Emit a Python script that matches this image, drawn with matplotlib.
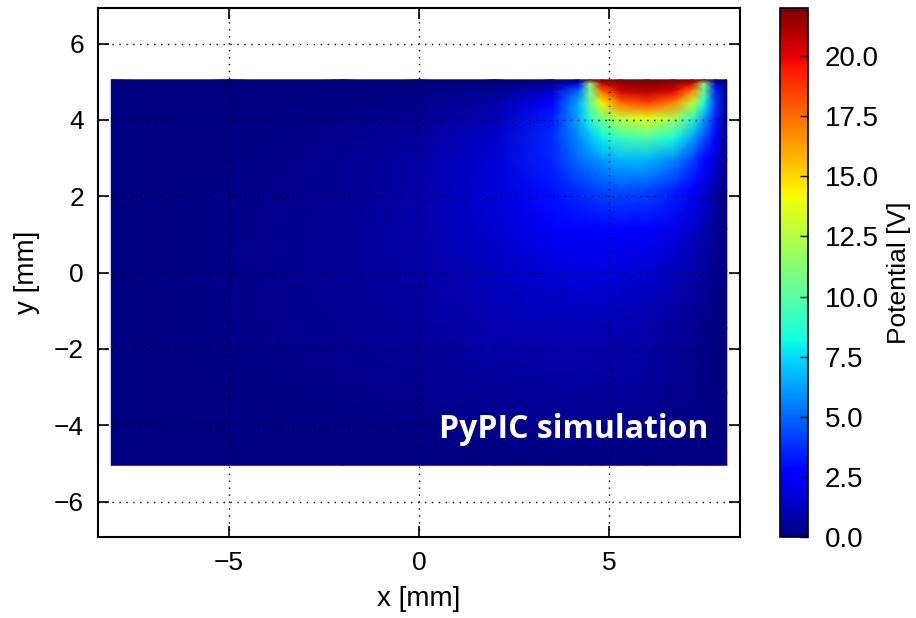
import matplotlib
matplotlib.use("Agg")
import matplotlib.pyplot as plt
import numpy as np

plt.rcParams['font.family'] = ['Liberation Sans', 'DejaVu Sans']

# grid nodes of the simulation box [mm]
x_nodes = [-8.1, -5.0, -2.0, 0.0, 2.0, 3.5, 4.2, 4.5, 4.8, 5.3, 6.0, 6.7, 7.2, 7.5, 7.8, 8.1]
y_nodes = [5.05, 4.95, 4.75, 4.45, 4.05, 3.55, 2.95, 2.15, 1.15, 0.05, -1.45, -3.15, -5.05]

# potential [V], one row per y node (top to bottom)
phi_r0 = [0, 0, 0, 0, 0, 0, 0, 22, 22, 22, 22, 22, 22, 22, 0, 0]
phi_r1 = [0, 0, 0.01, 0.02, 0.1, 0.5, 2.0, 11.2, 20.3, 21.5, 21.7, 21.5, 20.2, 11.0, 1.6, 0]
phi_r2 = [0, 0.04, 0.08, 0.15, 0.35, 1.4, 5.0, 10.8, 17.4, 20.3, 21.0, 20.1, 16.8, 10.2, 3.5, 0]
phi_r3 = [0, 0.05, 0.11, 0.25, 0.7, 2.5, 6.6, 10.2, 14.2, 17.5, 18.6, 17.0, 12.8, 8.4, 3.9, 0]
phi_r4 = [0, 0.09, 0.19, 0.39, 1.08, 3.3, 6.5, 8.6, 10.7, 12.9, 13.7, 12.1, 9.0, 6.3, 3.4, 0]
phi_r5 = [0, 0.1, 0.26, 0.55, 1.42, 3.64, 5.8, 6.9, 8.0, 9.3, 9.8, 8.5, 6.3, 4.5, 2.5, 0]
phi_r6 = [0, 0.15, 0.35, 0.7, 1.67, 3.53, 5.08, 5.5, 6.05, 6.65, 6.7, 5.7, 4.1, 2.9, 1.7, 0]
phi_r7 = [0, 0.18, 0.42, 0.82, 1.74, 3.05, 3.76, 4.02, 4.23, 4.42, 4.25, 3.45, 2.4, 1.7, 0.85, 0]
phi_r8 = [0, 0.18, 0.44, 0.82, 1.57, 2.35, 2.67, 2.76, 2.81, 2.80, 2.6, 2.0, 1.4, 0.98, 0.5, 0]
phi_r9 = [0, 0.19, 0.43, 0.74, 1.28, 1.69, 1.81, 1.85, 1.86, 1.8, 1.58, 1.15, 0.8, 0.52, 0.27, 0]
phi_r10 = [0, 0.18, 0.38, 0.58, 0.87, 1.01, 1.04, 1.03, 1.01, 0.94, 0.79, 0.55, 0.36, 0.24, 0.12, 0]
phi_r11 = [0, 0.1, 0.2, 0.32, 0.48, 0.56, 0.57, 0.57, 0.56, 0.52, 0.44, 0.3, 0.2, 0.13, 0.07, 0]
phi_r12 = [0] * 16

cbar_ticks = [0.0, 2.5, 5.0, 7.5, 10.0, 12.5, 15.0, 17.5, 20.0]

phi = np.array([phi_r0, phi_r1, phi_r2, phi_r3, phi_r4, phi_r5, phi_r6,
                phi_r7, phi_r8, phi_r9, phi_r10, phi_r11, phi_r12])
X, Y = np.meshgrid(x_nodes, y_nodes)

fig = plt.figure(figsize=(9.16, 6.18), dpi=100)
ax = fig.add_axes([0.107, 0.131, 0.701, 0.856])
cax = fig.add_axes([0.8515, 0.131, 0.0306, 0.856])

pc = ax.pcolormesh(X, Y, phi, shading='gouraud', cmap='jet', vmin=0, vmax=22)

ax.set_xlim(-8.45, 8.45)
ax.set_ylim(-6.93, 6.93)
ax.set_xticks([-5, 0, 5])
ax.set_yticks([-6, -4, -2, 0, 2, 4, 6])
ax.grid(True, color='black', linestyle=(0, (1, 4)), linewidth=1.0)
ax.set_axisbelow(False)
ax.tick_params(direction='in', length=8, width=1.2, labelsize=19,
               top=True, right=True, pad=10)
for s in ax.spines.values():
    s.set_linewidth(1.5)
ax.set_xlabel('x [mm]', fontsize=20, labelpad=8)
ax.set_ylabel('y [mm]', fontsize=20, labelpad=10)

ax.text(7.62, -4.1, 'PyPIC simulation', color='white', fontsize=23,
        fontweight='bold', family='Open Sans', ha='right', va='center')

cb = fig.colorbar(pc, cax=cax, ticks=cbar_ticks, format='%.1f')
cb.outline.set_linewidth(1.2)
cax.tick_params(direction='in', length=6, width=1, labelsize=20, pad=12)
cb.set_label('Potential [V]', fontsize=19, labelpad=6)

fig.savefig('out.png', dpi=100)
